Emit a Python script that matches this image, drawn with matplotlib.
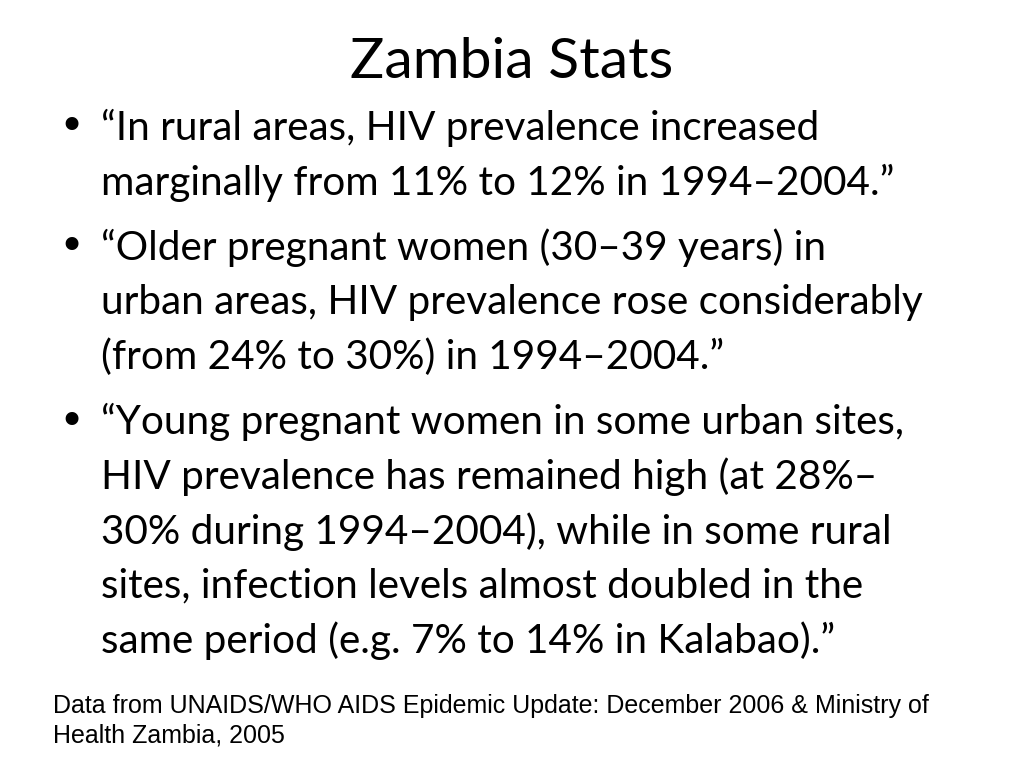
import matplotlib
matplotlib.use("Agg")
import matplotlib.pyplot as plt

# slide content
title = "Zambia Stats"
bullets = [
    ["\u201cIn rural areas, HIV prevalence increased",
     "marginally from 11% to 12% in 1994\u20132004.\u201d"],
    ["\u201cOlder pregnant women (30\u201339 years) in",
     "urban areas, HIV prevalence rose considerably",
     "(from 24% to 30%) in 1994\u20132004.\u201d"],
    ["\u201cYoung pregnant women in some urban sites,",
     "HIV prevalence has remained high (at 28%\u2013",
     "30% during 1994\u20132004), while in some rural",
     "sites, infection levels almost doubled in the",
     "same period (e.g. 7% to 14% in Kalabao).\u201d"],
]
footnote = ["Data from UNAIDS/WHO AIDS Epidemic Update: December 2006 & Ministry of",
            "Health Zambia, 2005"]

W, H = 1024, 768
fig = plt.figure(figsize=(W / 100, H / 100), dpi=100)
fig.patch.set_facecolor("white")


def px(x, y):
    return x / W, 1 - y / H


body_font = "Lato"

fig.text(*px(512, 62), title, ha="center", va="center",
         fontsize=41, family=body_font, color="black")

line_gap = 54.7
para_gap = 65
y = 128
for lines in bullets:
    fig.text(*px(71, y), "\u2022", ha="center", va="center",
             fontsize=32, family="DejaVu Sans", color="black")
    for i, line in enumerate(lines):
        fig.text(*px(101, y), line, ha="left", va="center",
                 fontsize=29.2, family=body_font, color="black")
        if i < len(lines) - 1:
            y += line_gap
    y += para_gap

for i, line in enumerate(footnote):
    fig.text(*px(53, 706 + i * 30), line, ha="left", va="center",
             fontsize=18, family="Liberation Sans", color="black")

fig.savefig("out.png", dpi=100, facecolor="white")
